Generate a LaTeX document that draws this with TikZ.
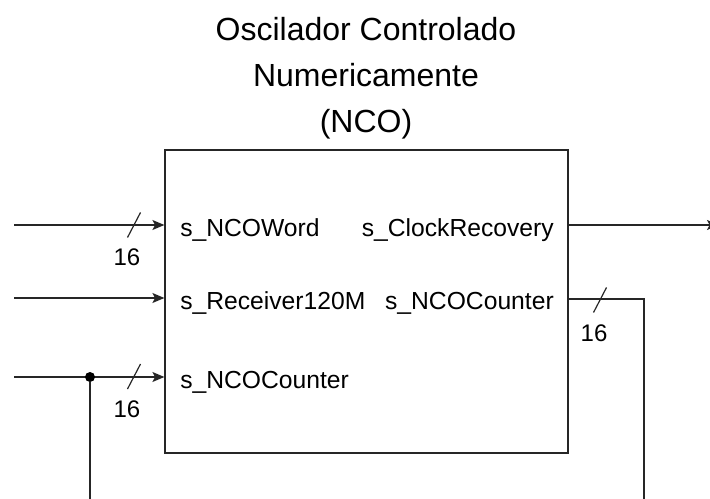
\documentclass[tikz,border=0pt]{standalone}
\usepackage{fontspec}
\setmainfont{Liberation Sans}
\usepackage{tikz}
\usetikzlibrary{positioning,arrows.meta}
\tikzset{
  wire/.style={draw=black!85, line width=0.9pt},
  sig/.style={wire, -{Stealth[length=9pt,width=7.5pt,inset=2pt]}},
  port/.style={font=\fontsize{18.5}{22}\selectfont, inner sep=0pt},
  buswidth/.style={font=\fontsize{18}{22}\selectfont, inner sep=0pt}
}

\begin{document}
\begin{tikzpicture}[x=0.75pt, y=-0.75pt]
	\useasboundingbox (0,0) rectangle (710,499);
	% title and block
	\node[align=center, font=\fontsize{24}{34.5}\selectfont] (title) at (366,78.5) {Oscilador Controlado\\Numericamente\\(NCO)};
	\node[wire, minimum width=302.25pt, minimum height=227.25pt, inner sep=0pt] (nco) at (366.5,301.5) {};
	% port names
	\node[port, anchor=base west] (pword) at (180,236) {s\_NCOWord};
	\node[port, anchor=base west] (prx) at (180,309) {s\_Receiver120M};
	\node[port, anchor=base west] (pcntin) at (180,388) {s\_NCOCounter};
	\node[port, anchor=base east] (pclk) at (554,236) {s\_ClockRecovery};
	\node[port, anchor=base east] (pcntout) at (554,309) {s\_NCOCounter};
	% inputs
	\coordinate (inword) at (14,225);
	\coordinate (inrx) at (14,298);
	\coordinate (incnt) at (14,377);
	\draw[sig] (inword) -- (inword -| nco.west);
	\draw[sig] (inrx) -- (inrx -| nco.west);
	\draw[sig] (incnt) -- (incnt -| nco.west);
	\node[circle, fill=black, inner sep=0pt, minimum size=7.5pt] (tap) at (90,377) {};
	\coordinate (tapend) at (90,499);
	\draw[wire] (tap) -- (tapend);
	% outputs
	\coordinate (outclk) at (719,225);
	\draw[sig] (outclk -| nco.east) -- (outclk);
	\coordinate (outcnt) at (644,299);
	\coordinate (fbend) at (644,499);
	\draw[wire] (outcnt -| nco.east) -- (outcnt) -- (fbend);
	% bus widths
	\draw[wire] (127.5,237.5) -- ++(13,-25);
	\draw[wire] (127.5,389) -- ++(13,-25);
	\draw[wire] (593.5,312.5) -- ++(13,-25);
	\node[buswidth] (wword) at (127,257) {16};
	\node[buswidth] (wcntin) at (127,409) {16};
	\node[buswidth] (wcntout) at (594,333) {16};
\end{tikzpicture}
\end{document}
